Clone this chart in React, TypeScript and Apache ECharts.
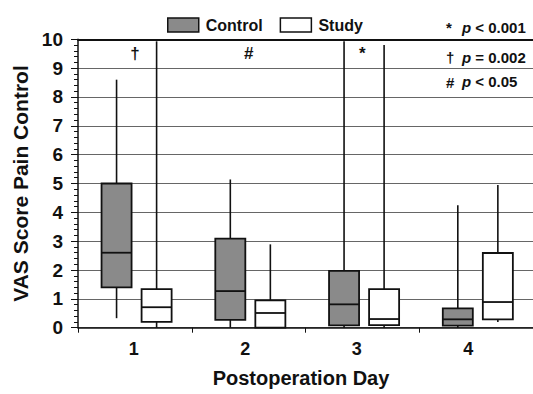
import React, { useEffect, useRef } from "react";
import * as echarts from "echarts";

const categories = ["1", "2", "3", "4"];
const yTicks = [0, 1, 2, 3, 4, 5, 6, 7, 8, 9, 10];
// [min, Q1, median, Q3, max]
const controlValues = [
  [0.33, 1.4, 2.6, 5.0, 8.6],
  [0, 0.27, 1.27, 3.09, 5.14],
  [0, 0.08, 0.81, 1.97, 9.93],
  [0, 0.07, 0.29, 0.67, 4.25],
];
const studyValues = [
  [0, 0.2, 0.71, 1.34, 9.93],
  [0, 0, 0.51, 0.95, 2.89],
  [0, 0.09, 0.3, 1.34, 9.8],
  [0.2, 0.29, 0.89, 2.59, 4.95],
];
const significance = [
  { cat: "1", mark: "†" },
  { cat: "2", mark: "#" },
  { cat: "3", mark: "*" },
];
const pLegend = [
  { mark: "*", op: "<", p: "0.001" },
  { mark: "†", op: "=", p: "0.002" },
  { mark: "#", op: "<", p: "0.05" },
];

const FONT = "Liberation Sans, Arial, Helvetica, sans-serif";
const INK = "#111";
const CONTROL_FILL = "#8a8a8a";

export default function App() {
  const ref = useRef<HTMLDivElement>(null);
  useEffect(() => {
    if (!ref.current) return;
    const chart = echarts.init(ref.current, null, { renderer: "svg" });

    const makeRender = (offset: number, fill: string) => (params: any, api: any) => {
      const cat = api.value(0);
      const bw = api.size([1, 0])[0];
      const base = api.coord([cat, 0]);
      const cx = base[0] + offset * bw;
      const w = bw * 0.264;
      const yMin = api.coord([cat, api.value(1)])[1];
      const yQ1 = api.coord([cat, api.value(2)])[1];
      const yMed = api.coord([cat, api.value(3)])[1];
      const yQ3 = api.coord([cat, api.value(4)])[1];
      const yMax = api.coord([cat, api.value(5)])[1];
      const ls = { stroke: INK, lineWidth: 1.6 };
      return {
        type: "group",
        children: [
          { type: "line", shape: { x1: cx, y1: yMax, x2: cx, y2: yQ3 }, style: ls },
          { type: "line", shape: { x1: cx, y1: yQ1, x2: cx, y2: yMin }, style: ls },
          {
            type: "rect",
            shape: { x: cx - w / 2, y: yQ3, width: w, height: yQ1 - yQ3 },
            style: { fill, stroke: INK, lineWidth: 1.8 },
          },
          { type: "line", shape: { x1: cx - w / 2, y1: yMed, x2: cx + w / 2, y2: yMed }, style: { stroke: INK, lineWidth: 1.8 } },
        ],
      };
    };

    const left = 78;
    const top = 39.3;
    const bottom = 66.3;

    const graphics: any[] = [];
    pLegend.forEach((r, i) => {
      const ys = [28, 58, 82.5];
      graphics.push({
        type: "text",
        left: 446,
        top: ys[i] - 8,
        style: { text: r.mark, font: `bold 15px ${FONT}`, fill: INK },
      });
      graphics.push({
        type: "text",
        left: 462,
        top: ys[i] - 8.5,
        style: {
          text: `{p|p} ${r.op} ${r.p}`,
          font: `bold 15px ${FONT}`,
          fill: INK,
          rich: { p: { font: `italic bold 15px ${FONT}`, fill: INK } },
        },
      });
    });

    const option: any = {
      animation: false,
      grid: [
        { left, right: 9, top, bottom },
        { left, right: 0, top, bottom },
      ],
      legend: {
        left: 162,
        top: 12,
        itemWidth: 31,
        itemHeight: 14,
        itemGap: 17,
        icon: "rect",
        textStyle: { fontFamily: FONT, fontWeight: "bold", fontSize: 16, color: INK, padding: [0, 0, 0, 2] },
        data: [
          { name: "Control", itemStyle: { color: CONTROL_FILL, borderColor: INK, borderWidth: 1.5 } },
          { name: "Study", itemStyle: { color: "#fff", borderColor: INK, borderWidth: 1.5 } },
        ],
      },
      xAxis: [
        {
          gridIndex: 0,
          type: "category",
          data: categories,
          axisLine: { show: false },
          axisTick: { show: false },
          axisLabel: { fontFamily: FONT, fontWeight: "bold", fontSize: 18, color: INK, margin: 12 },
          name: "Postoperation Day",
          nameLocation: "middle",
          nameGap: 40,
          nameTextStyle: { fontFamily: FONT, fontWeight: "bold", fontSize: 20, color: INK },
        },
        {
          gridIndex: 1,
          type: "category",
          data: categories,
          axisLine: { show: true, lineStyle: { color: INK, width: 1.5 } },
          axisTick: { show: true, length: 5, lineStyle: { color: INK, width: 1 } },
          axisLabel: { show: false },
        },
        {
          gridIndex: 1,
          type: "category",
          position: "top",
          data: categories,
          axisLine: { show: true, lineStyle: { color: INK, width: 2 } },
          axisTick: { show: false },
          axisLabel: { show: false },
        },
      ],
      yAxis: [
        { gridIndex: 0, type: "value", min: 0, max: 10, show: false },
        {
          gridIndex: 1,
          type: "value",
          min: yTicks[0],
          max: yTicks[yTicks.length - 1],
          interval: 1,
          axisLine: { show: true, lineStyle: { color: INK, width: 1.5 } },
          axisTick: { show: true, length: 7, lineStyle: { color: INK, width: 1 } },
          minorTick: { show: true, splitNumber: 5, length: 4, lineStyle: { color: INK, width: 1 } },
          splitLine: { show: true, lineStyle: { color: "#666", width: 1 } },
          axisLabel: { fontFamily: FONT, fontWeight: "bold", fontSize: 19, color: INK, margin: 15 },
          name: "VAS Score Pain Control",
          nameLocation: "middle",
          nameGap: 43,
          nameTextStyle: { fontFamily: FONT, fontWeight: "bold", fontSize: 21, color: INK },
        },
      ],
      series: [
        {
          name: "Control",
          type: "custom",
          xAxisIndex: 1,
          yAxisIndex: 1,
          itemStyle: { color: CONTROL_FILL, borderColor: INK, borderWidth: 1.5 },
          encode: { x: 0, y: [1, 2, 3, 4, 5] },
          renderItem: makeRender(-0.161, CONTROL_FILL),
          data: controlValues.map((v, i) => [i, ...v]),
        },
        {
          name: "Study",
          type: "custom",
          xAxisIndex: 1,
          yAxisIndex: 1,
          itemStyle: { color: "#fff", borderColor: INK, borderWidth: 1.5 },
          encode: { x: 0, y: [1, 2, 3, 4, 5] },
          renderItem: makeRender(0.191, "#fff"),
          data: studyValues.map((v, i) => [i, ...v]),
        },
        {
          name: "sig",
          type: "scatter",
          xAxisIndex: 1,
          yAxisIndex: 1,
          symbolSize: 1,
          silent: true,
          itemStyle: { opacity: 0 },
          label: {
            show: true,
            position: "inside",
            formatter: (p: any) => p.data.mark,
            fontFamily: FONT,
            fontWeight: "bold",
            fontSize: 17,
            color: INK,
            opacity: 1,
          },
          labelLayout: { hideOverlap: false },
          data: significance.map((s) => ({ value: [s.cat, 9.5], mark: s.mark })),
        },
      ],
      graphic: graphics,
    };
    chart.setOption(option);
    return () => chart.dispose();
  }, []);
  return (
    <div
      ref={ref}
      style={{ position: "fixed", left: 0, top: 0, width: 533, height: 394, background: "#fff" }}
    />
  );
}
